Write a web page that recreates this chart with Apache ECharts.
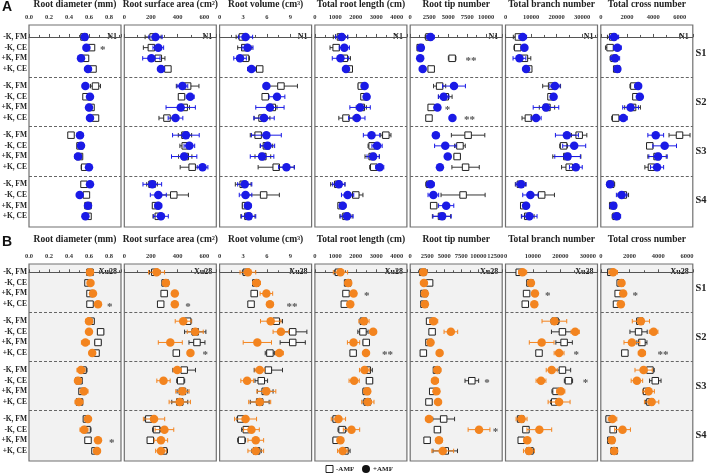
<!DOCTYPE html>
<html><head><meta charset="utf-8">
<script src="https://cdn.jsdelivr.net/npm/echarts@6/dist/echarts.min.js"></script>
<style>html,body{margin:0;padding:0;background:#fff}#c{width:708px;height:473px}</style>
</head><body><div id="c"></div>
<script>
// ---------- labels ----------
const rowLabels = ["-K, FM", "-K, CE", "+K, FM", "+K, CE"];
const stageLabels = ["S1", "S2", "S3", "S4"];
const columnTitles = ["Root diameter (mm)", "Root surface area (cm²)", "Root volume (cm³)",
  "Total root length (cm)", "Root tip number", "Total branch number", "Total cross number"];
const panelTags = ["N1", "Xu28"];
const axisStep = [0.2, 200, 3, 1000, 2500, 10000, 2000];
const axisDecimals = [1, 0, 0, 0, 0, 0, 0];
const axisMaxA = [0.92, 690, 11.7, 4500, 12100, 36000, 7000];
const axisMaxB = [0.92, 690, 11.7, 4500, 13500, 33500, 6400];

// ---------- Panel A (N1): -AMF (square) / +AMF (circle), 16 rows S1..S4 x treatments ----------
const A_rd_neg = [0.55,0.625,0.565,0.64, 0.665,0.57,0.62,0.665, 0.42,0.51,0.505,0.557, 0.55,0.574,0.59,0.59];
const A_rd_negErr = [0.02,0.015,0.02,0.015, 0.05,0.02,0.01,0.02, 0.015,0.02,0.02,0.035, 0.02,0.02,0.01,0.01];
const A_rd_pos = [0.557,0.574,0.52,0.59, 0.564,0.61,0.6,0.61, 0.51,0.52,0.49,0.6, 0.61,0.507,0.59,0.564];
const A_rd_posErr = [0.02,0.01,0.02,0.015, 0.01,0.02,0.02,0.02, 0.03,0.02,0.035,0.02, 0.025,0.02,0.015,0.02];

const A_rsa_neg = [216,203,255,327, 475,429,449,320, 455,457,457,509, 208,371,234,255];
const A_rsa_negErr = [60,60,50,15, 85,20,40,60, 50,40,50,90, 40,110,20,40];
const A_rsa_pos = [234,255,203,275, 436,494,423,384, 462,488,449,587, 210,255,255,275];
const A_rsa_posErr = [50,40,65,20, 40,30,110,55, 100,40,95,40, 70,60,25,55];

const A_rv_neg = [2.9,3.2,3.3,5.1, 7.8,5.8,6.7,5.4, 4.9,5.95,5.5,7.2, 3.0,5.6,3.3,3.6];
const A_rv_negErr = [0.8,0.9,0.5,0.3, 2.1,0.3,0.6,1.0, 1.0,0.8,1.0,2.3, 1.0,2.0,0.4,0.9];
const A_rv_pos = [3.3,3.55,2.6,4.05, 5.95,7.3,6.4,5.65, 5.95,6.1,5.4,8.5, 3.2,3.3,3.6,3.7];
const A_rv_posErr = [0.9,0.7,0.8,0.5, 0.3,1.0,1.8,1.3, 1.9,0.9,1.5,1.0, 0.9,0.8,0.4,0.9];

const A_trl_neg = [1250,1040,1440,1680, 2270,2400,2270,1520, 3470,2800,2800,2880, 1120,2000,1280,1520];
const A_trl_negErr = [350,300,300,100, 150,100,250,350, 250,200,350,200, 350,350,100,300];
const A_trl_pos = [1310,1440,1250,1520, 2430,2530,2210,2050, 2770,3040,2850,3170, 1170,1600,1360,1570];
const A_trl_posErr = [300,250,400,100, 150,100,500,400, 400,250,300,200, 300,300,150,300];

const A_rtn_neg = [2470,1317,5515,2758, 3869,4610,2758,2470, 7615,6544,6174,7285, 2550,6956,3087,4116];
const A_rtn_negErr = [500,150,500,200, 800,900,200,150, 2200,700,400,1800, 500,2900,400,1200];
const A_rtn_pos = [2675,1400,1317,1646, 5762,4404,3581,5557, 3375,4610,4939,3910, 2675,3046,4733,4198];
const A_rtn_posErr = [500,200,200,200, 1500,700,200,200, 400,1400,200,200, 500,700,1000,1200];

const A_tbn_neg = [5060,4800,7400,9090, 18050,17800,16230,8960, 28830,22730,24000,24940, 5840,14160,7140,8700];
const A_tbn_negErr = [2000,1500,2500,800, 3500,1000,3000,2500, 3000,1500,5500,3000, 2000,5000,1200,2500];
const A_tbn_pos = [6750,7400,5450,8050, 19350,18830,15840,11950, 24030,26880,24290,27530, 6100,9740,8050,9350];
const A_tbn_posErr = [1500,1000,2500,800, 2000,1000,5000,2000, 4500,4500,5000,2500, 2000,3000,1000,3000];

const A_tcn_neg = [906,705,1007,1210, 2518,2670,2417,1133, 5990,3727,4280,3853, 755,1712,906,1160];
const A_tcn_negErr = [400,350,300,200, 300,200,600,300, 800,200,700,500, 300,400,150,300];
const A_tcn_pos = [1007,1260,1083,1260, 2845,2970,2266,1712, 4180,4860,4356,4280, 705,1586,957,1210];
const A_tcn_posErr = [350,300,350,150, 250,200,600,300, 600,900,700,500, 200,400,150,300];

// ---------- Panel B (Xu28) ----------
const B_rd_neg = [0.61,0.59,0.61,0.61, 0.62,0.716,0.69,0.67, 0.54,0.5,0.53,0.505, 0.574,0.58,0.59,0.66];
const B_rd_negErr = [0.01,0.01,0.015,0.01, 0.03,0.03,0.03,0.01, 0.04,0.025,0.02,0.02, 0.02,0.04,0.01,0.02];
const B_rd_pos = [0.61,0.615,0.64,0.69, 0.6,0.6,0.564,0.632, 0.52,0.49,0.55,0.5, 0.59,0.55,0.69,0.68];
const B_rd_posErr = [0.01,0.015,0.02,0.01, 0.035,0.02,0.04,0.015, 0.04,0.03,0.04,0.04, 0.02,0.04,0.01,0.03];

const B_rsa_neg = [229,306,299,273, 475,532,545,390, 449,423,436,416, 184,242,195,294];
const B_rsa_negErr = [40,15,15,15, 30,80,60,20, 85,30,40,60, 30,30,20,30];
const B_rsa_pos = [242,312,379,379, 442,532,345,496, 397,294,436,416, 223,301,275,275];
const B_rsa_posErr = [60,25,20,20, 60,60,90,20, 30,50,50,80, 80,70,50,40];

const B_rv_neg = [3.4,4.6,4.4,4.0, 7.2,9.3,9.3,6.4, 6.2,5.3,5.8,5.1, 2.7,3.4,2.8,4.7];
const B_rv_negErr = [0.5,0.3,0.3,0.3, 0.8,1.8,1.6,0.6, 1.8,0.8,1.0,1.2, 0.5,0.6,0.5,0.6];
const B_rv_pos = [3.6,4.7,5.95,6.4, 6.5,7.8,4.8,7.6, 5.1,3.5,5.95,5.1, 3.3,4.05,4.6,4.6];
const B_rv_posErr = [1.0,0.5,0.8,0.4, 1.3,1.0,1.8,0.5, 0.6,0.8,1.2,1.4, 1.4,1.0,1.0,1.0];

const B_trl_neg = [1150,1600,1520,1440, 2370,2350,2510,1870, 2560,2670,2510,2560, 1040,1330,1040,1470];
const B_trl_negErr = [200,80,60,60, 150,250,150,60, 250,150,150,200, 150,200,150,250];
const B_trl_pos = [1250,1630,1890,1730, 2400,2850,1890,2500, 2430,1920,2560,2590, 1150,1790,1250,1360];
const B_trl_posErr = [350,150,80,60, 250,150,300,60, 250,250,150,300, 350,400,150,250];

const B_rtn_neg = [1836,2846,2020,2020, 2846,3213,2754,1928, 3856,9043,3305,2754, 4911,3994,2479,5141];
const B_rtn_negErr = [300,150,150,150, 150,200,150,150, 300,1000,200,150, 1600,400,300,1800];
const B_rtn_pos = [1928,2020,2157,2157, 3443,5967,2983,4315, 3994,3626,3856,4085, 2754,10098,4223,4774];
const B_rtn_posErr = [500,200,200,200, 600,1000,300,400, 500,500,300,400, 500,1600,500,1600];

const B_tbn_neg = [5000,8900,7680,7200, 18050,20730,21340,12200, 20730,22930,18410,17930, 5490,7440,5730,8900];
const B_tbn_negErr = [1000,500,400,400, 1500,4000,3000,800, 3000,1500,1500,1500, 1000,800,800,1500];
const B_tbn_pos = [6220,9270,10730,10490, 17800,25370,13170,19510, 16830,12930,20120,19510, 5850,12320,7930,8540];
const B_tbn_posErr = [1500,800,800,800, 4500,1500,4500,1800, 2000,1800,1500,4000, 2000,4500,1200,2000];

const B_tcn_neg = [700,1350,1209,1093, 2720,2628,2860,1674, 3419,3791,3186,3419, 581,860,700,930];
const B_tcn_negErr = [200,150,100,100, 200,600,350,100, 300,400,250,300, 200,150,100,150];
const B_tcn_pos = [860,1442,1558,1395, 2790,3674,2163,2860, 2977,2512,3326,3535, 814,1512,767,930];
const B_tcn_posErr = [300,150,100,100, 600,300,550,250, 600,400,400,500, 300,550,100,150];

// significance marks: [panel, column, row index, x value, text]
const starMarks = [
  [0,0,1,0.71,"*"], [0,4,2,7285,"**"], [0,4,6,4528,"*"], [0,4,7,7080,"**"],
  [1,0,3,0.78,"*"], [1,0,14,0.80,"*"], [1,1,3,457,"*"], [1,1,7,587,"*"], [1,2,3,8.5,"**"],
  [1,3,2,2400,"*"], [1,3,7,3280,"**"], [1,4,9,10880,"*"], [1,4,13,12120,"*"],
  [1,5,2,14390,"*"], [1,5,7,24760,"*"], [1,5,9,28170,"*"], [1,6,2,2209,"*"], [1,6,7,3950,"**"]
];

const panelData = [
  [[A_rd_neg,A_rd_negErr,A_rd_pos,A_rd_posErr],[A_rsa_neg,A_rsa_negErr,A_rsa_pos,A_rsa_posErr],
   [A_rv_neg,A_rv_negErr,A_rv_pos,A_rv_posErr],[A_trl_neg,A_trl_negErr,A_trl_pos,A_trl_posErr],
   [A_rtn_neg,A_rtn_negErr,A_rtn_pos,A_rtn_posErr],[A_tbn_neg,A_tbn_negErr,A_tbn_pos,A_tbn_posErr],
   [A_tcn_neg,A_tcn_negErr,A_tcn_pos,A_tcn_posErr]],
  [[B_rd_neg,B_rd_negErr,B_rd_pos,B_rd_posErr],[B_rsa_neg,B_rsa_negErr,B_rsa_pos,B_rsa_posErr],
   [B_rv_neg,B_rv_negErr,B_rv_pos,B_rv_posErr],[B_trl_neg,B_trl_negErr,B_trl_pos,B_trl_posErr],
   [B_rtn_neg,B_rtn_negErr,B_rtn_pos,B_rtn_posErr],[B_tbn_neg,B_tbn_negErr,B_tbn_pos,B_tbn_posErr],
   [B_tcn_neg,B_tcn_negErr,B_tcn_pos,B_tcn_posErr]]
];

// ---------- layout ----------
const SERIF = "'Liberation Serif','Times New Roman',serif";
const colors = ['#1a1ae6', '#f3841f'];
const panels = [
  {top: 25, height: 202, ymin: -1.12, ymax: 17.8, titleY: 5, letterY: 0, letter: 'A', bg: '#ffffff', max: axisMaxA},
  {top: 264, height: 197, ymin: -0.78, ymax: 17.75, titleY: 240, letterY: 235, letter: 'B', bg: '#f2f2f2', max: axisMaxB}
];
const colLeft = i => 29 + i * 95.3;
const colWidth = 92;
const rowPos = i => Math.floor(i / 4) * 4.6 + (i % 4);
const dividers = [3.8, 8.4, 13.0];
function yPix(p, v) { return p.top + (v - p.ymin) * p.height / (p.ymax - p.ymin); }

function errRender(color) {
  return function (params, api) {
    const a = api.coord([api.value(0), api.value(2)]);
    const b = api.coord([api.value(1), api.value(2)]);
    const h = 2.2;
    const st = {stroke: color, lineWidth: 1};
    return {type: 'group', children: [
      {type: 'line', shape: {x1: a[0], y1: a[1], x2: b[0], y2: b[1]}, style: st},
      {type: 'line', shape: {x1: a[0], y1: a[1] - h, x2: a[0], y2: a[1] + h}, style: st},
      {type: 'line', shape: {x1: b[0], y1: b[1] - h, x2: b[0], y2: b[1] + h}, style: st}
    ]};
  };
}

const grids = [], xAxes = [], yAxes = [], series = [], graphics = [];
panels.forEach((p, pi) => {
  graphics.push({type: 'text', left: 2, top: p.letterY, style: {text: p.letter, font: "bold 14px 'Liberation Sans',Arial,sans-serif", fill: '#111'}});
  for (let c = 0; c < 7; c++) {
    const gi = pi * 7 + c;
    const left = colLeft(c);
    grids.push({left: left, top: p.top, width: colWidth, height: p.height, show: true,
      borderColor: '#707070', borderWidth: 1.2, backgroundColor: p.bg});
    xAxes.push({gridIndex: gi, type: 'value', position: 'top', min: 0, max: p.max[c], interval: axisStep[c],
      axisLine: {show: true, lineStyle: {color: '#555', width: 1}},
      axisTick: {show: true, inside: false, length: 3, lineStyle: {color: '#555'}},
      minorTick: {show: true, splitNumber: 2, length: 2, lineStyle: {color: '#555'}},
      splitLine: {show: false},
      axisLabel: {show: true, showMaxLabel: false, fontSize: 6.5, fontFamily: SERIF, fontWeight: 'bold', color: '#333', margin: 4,
        formatter: v => v.toFixed(axisDecimals[c])}});
    yAxes.push({gridIndex: gi, type: 'value', inverse: true, min: p.ymin, max: p.ymax, show: false});
    const [neg, negErr, pos, posErr] = panelData[pi][c];
    const negErrData = neg.map((v, i) => [v - negErr[i], v + negErr[i], rowPos(i)]);
    const posErrData = pos.map((v, i) => [v - posErr[i], v + posErr[i], rowPos(i)]);
    series.push({type: 'custom', xAxisIndex: gi, yAxisIndex: gi, renderItem: errRender('#333'),
      dimensions: ['lo', 'hi', 'y'], encode: {x: [0, 1], y: 2}, data: negErrData, z: 2, silent: true});
    series.push({type: 'scatter', xAxisIndex: gi, yAxisIndex: gi, symbol: 'rect', symbolSize: 6.5,
      itemStyle: {color: '#fff', borderColor: '#222', borderWidth: 1, opacity: 1},
      data: neg.map((v, i) => [v, rowPos(i)]), z: 3, silent: true,
      markLine: {silent: true, symbol: 'none', label: {show: false},
        lineStyle: {color: '#666', type: [3, 2], width: 1},
        data: dividers.map(d => ({yAxis: d}))}});
    series.push({type: 'custom', xAxisIndex: gi, yAxisIndex: gi, renderItem: errRender(colors[pi]),
      dimensions: ['lo', 'hi', 'y'], encode: {x: [0, 1], y: 2}, data: posErrData, z: 4, silent: true});
    series.push({type: 'scatter', xAxisIndex: gi, yAxisIndex: gi, symbol: 'circle', symbolSize: 8.5,
      itemStyle: {color: colors[pi], opacity: 1}, data: pos.map((v, i) => [v, rowPos(i)]), z: 5, silent: true});
    const marks = starMarks.filter(s => s[0] === pi && s[1] === c);
    if (marks.length) {
      series.push({type: 'custom', xAxisIndex: gi, yAxisIndex: gi, z: 6, silent: true,
        dimensions: ['x', 'y'], encode: {x: 0, y: 1},
        data: marks.map(s => [s[3], rowPos(s[2])]),
        renderItem: (params, api) => {
          const pt = api.coord([api.value(0), api.value(1)]);
          return {type: 'text', x: pt[0], y: pt[1] + 2.5,
            style: {text: marks[params.dataIndex][4], font: "bold 11px " + SERIF, fill: '#555', align: 'left', verticalAlign: 'middle'}};
        }});
    }
    // column title and tag
    graphics.push({type: 'text', x: left + colWidth / 2, y: p.titleY,
      style: {text: columnTitles[c], font: "bold 9.5px " + SERIF, fill: '#222', align: 'center', verticalAlign: 'middle'}});
    graphics.push({type: 'text', x: left + colWidth - 4, y: yPix(p, 0),
      style: {text: panelTags[pi], font: "bold 8px " + SERIF, fill: '#222', align: 'right', verticalAlign: 'middle'}});
  }
  // row labels
  for (let i = 0; i < 16; i++) {
    graphics.push({type: 'text', x: 27, y: yPix(p, rowPos(i)),
      style: {text: rowLabels[i % 4], font: "bold 7.5px " + SERIF, fill: '#222', align: 'right', verticalAlign: 'middle'}});
  }
  // stage labels
  for (let g = 0; g < 4; g++) {
    graphics.push({type: 'text', x: 701, y: yPix(p, g * 4.6 + 1.5),
      style: {text: stageLabels[g], font: "bold 10.5px " + SERIF, fill: '#222', align: 'center', verticalAlign: 'middle'}});
  }
});

// legend
graphics.push({type: 'rect', shape: {x: 326, y: 465.5, width: 7, height: 7}, style: {fill: '#fff', stroke: '#222', lineWidth: 1}});
graphics.push({type: 'text', x: 336, y: 469.5, style: {text: '-AMF', font: "bold 7px " + SERIF, fill: '#222', align: 'left', verticalAlign: 'middle'}});
graphics.push({type: 'circle', shape: {cx: 366, cy: 469, r: 4}, style: {fill: '#111'}});
graphics.push({type: 'text', x: 373, y: 469.5, style: {text: '+AMF', font: "bold 7px " + SERIF, fill: '#222', align: 'left', verticalAlign: 'middle'}});

const chart = echarts.init(document.getElementById('c'), null, {renderer: 'canvas'});
chart.setOption({animation: false, backgroundColor: '#fff', grid: grids, xAxis: xAxes, yAxis: yAxes, series: series, graphic: graphics});
</script>
</body></html>
